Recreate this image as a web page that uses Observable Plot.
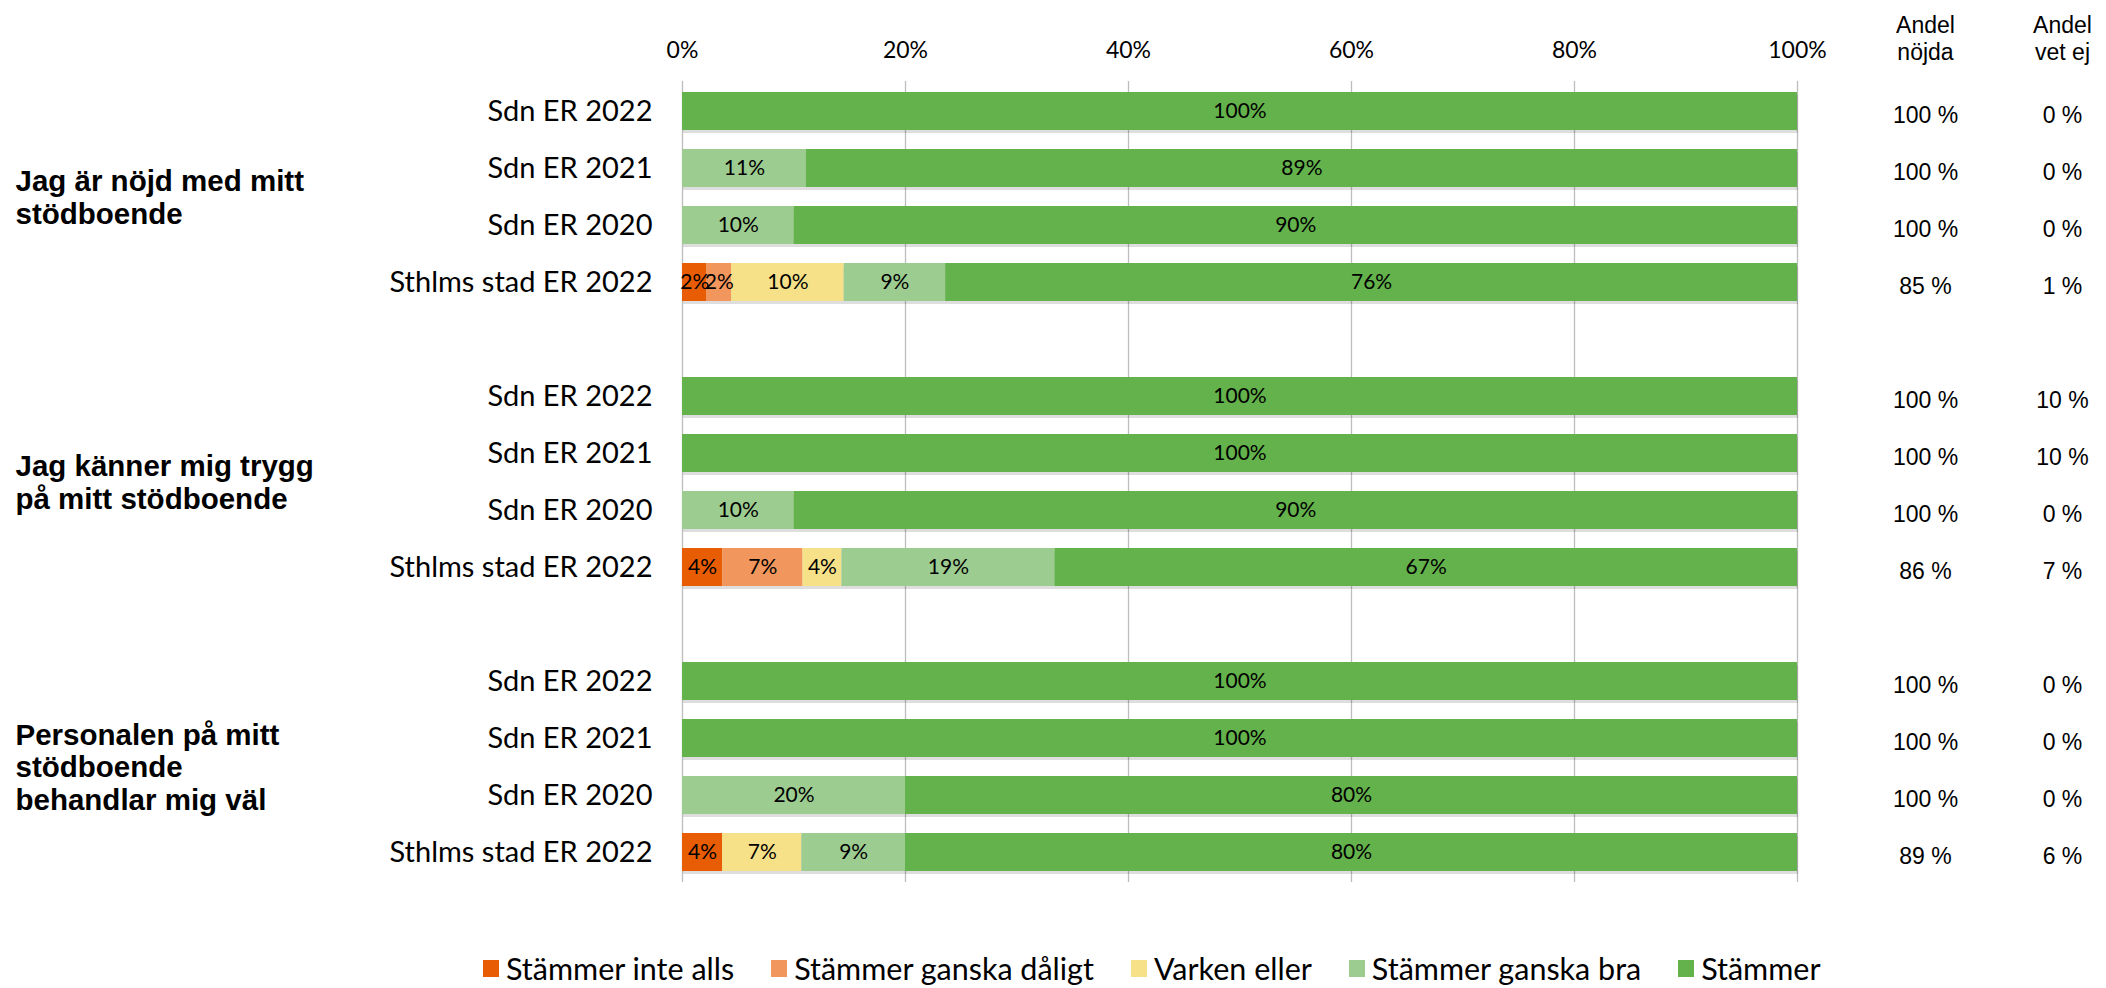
<!DOCTYPE html>
<html>
<head>
<meta charset="utf-8">
<script src="https://cdn.jsdelivr.net/npm/d3@7"></script>
<script src="https://cdn.jsdelivr.net/npm/@observablehq/plot@0.6"></script>
<style>
  html, body { margin: 0; padding: 0; background: #fff; }
  #wrap { position: relative; width: 2106px; height: 988px; }
  #legend { position: absolute; left: 483px; top: 950px; display: flex; align-items: center;
            font-family: Lato, "Open Sans", sans-serif; font-size: 30.5px; color: #000; }
  .item { display: flex; align-items: center; margin-right: 37px; }
  .sw { width: 16px; height: 17px; margin-right: 7px; }
</style>
</head>
<body>
<div id="wrap"><div id="chart"></div><div id="legend"></div></div>
<script>
// ---- data ----
const groups = ["Jag är nöjd med mitt\nstödboende", "Jag känner mig trygg\npå mitt stödboende", "Personalen på mitt\nstödboende\nbehandlar mig väl"];
const rowLabels = ["Sdn ER 2022", "Sdn ER 2021", "Sdn ER 2020", "Sthlms stad ER 2022"];
const categories = ["Stämmer inte alls", "Stämmer ganska dåligt", "Varken eller", "Stämmer ganska bra", "Stämmer"];
const colors = ["#E85C04", "#F1965C", "#F6E088", "#9DCC90", "#63B24B"];
// values per category, rows in order group1 (4 rows), group2 (4 rows), group3 (4 rows)
const stammerInteAlls     = [0, 0, 0, 2.2,   0, 0, 0, 3.6,   0, 0, 0, 3.6];
const stammerGanskaDaligt = [0, 0, 0, 2.2,   0, 0, 0, 7.2,   0, 0, 0, 0];
const varkenEller         = [0, 0, 0, 10.1,  0, 0, 0, 3.5,   0, 0, 0, 7.1];
const stammerGanskaBra    = [0, 11.1, 10, 9.1,  0, 0, 10, 19.1,  0, 0, 20, 9.3];
const stammer             = [100, 88.9, 90, 76.4,  100, 100, 90, 66.6,  100, 100, 80, 80];
const andelNojda = [100, 100, 100, 85,  100, 100, 100, 86,  100, 100, 100, 89];
const andelVetEj = [0, 0, 0, 1,  10, 10, 0, 7,  0, 0, 0, 6];
const xTicks = [0, 20, 40, 60, 80, 100];

// ---- build tables ----
const series = [stammerInteAlls, stammerGanskaDaligt, varkenEller, stammerGanskaBra, stammer];
const rowKeys = [];
const yDomain = [];
groups.forEach((g, gi) => {
  rowLabels.forEach(r => { const k = gi + "|" + r; rowKeys.push(k); yDomain.push(k); });
  if (gi < groups.length - 1) yDomain.push("gap" + gi);
});
const long = [];
series.forEach((vals, ci) => vals.forEach((v, i) => long.push({key: rowKeys[i], category: categories[ci], value: v})));
const rows = rowKeys.map((k, i) => ({key: k, nojda: andelNojda[i], vetej: andelVetEj[i]}));
const groupRows = groups.map((g, gi) => ({key: rowKeys[gi * 4 + 1], text: g}));

const W = 2106, H = 930, mL = 682, mR = 309, mT = 81, mB = 48;
const pIn = 0.33, pOut = 0.17;
const step = (H - mT - mB) / (yDomain.length - pIn + 2 * pOut);
const calibri = "Lato, 'Open Sans', sans-serif";
const arial = "'Liberation Sans', Arial, sans-serif";
const colNojdaDx = 128, colVetDx = 265;

const chart = Plot.plot({
  width: W, height: H, marginLeft: mL, marginRight: mR, marginTop: mT, marginBottom: mB,
  style: {fontFamily: calibri, color: "#000", background: "#fff"},
  x: {domain: [0, 100]},
  y: {domain: yDomain, paddingInner: pIn, paddingOuter: pOut, axis: null},
  color: {domain: categories, range: colors},
  marks: [
    Plot.gridX(xTicks, {stroke: "#bdbdbd", strokeOpacity: 1, strokeWidth: 1.3}),
    Plot.axisX({anchor: "top", ticks: xTicks, tickSize: 0, tickPadding: 24, tickFormat: d => d + "%", fontSize: 23, label: null}),
    Plot.axisY({ticks: rowKeys, tickSize: 0, tickPadding: 30, tickFormat: k => k.split("|")[1], fontSize: 29, label: null}),
    // subtle shadow under bars
    Plot.barX(rows, {x1: 0, x2: 100, y: "key", fill: "#000", fillOpacity: 0.13, dy: 3, dx: 1}),
    Plot.barX(long, Plot.stackX({x: "value", y: "key", fill: "category", order: categories})),
    Plot.text(long.filter(d => d.value > 0), Plot.stackX({x: "value", y: "key", z: "category", order: categories,
      text: d => Math.round(d.value) + "%", fill: "#000", fontSize: 21})),
    Plot.text(groupRows, {y: "key", text: "text", frameAnchor: "left", textAnchor: "start", dx: -(mL - 15), dy: step / 2,
      fontWeight: "bold", fontSize: 29.5, lineHeight: 1.1, fontFamily: arial, fill: "#000"}),
    Plot.text(rows, {y: "key", text: d => d.nojda + " %", frameAnchor: "right", textAnchor: "middle", dx: colNojdaDx, dy: 4, fontSize: 23, fontFamily: arial, fill: "#000"}),
    Plot.text(rows, {y: "key", text: d => d.vetej + " %", frameAnchor: "right", textAnchor: "middle", dx: colVetDx, dy: 4, fontSize: 23, fontFamily: arial, fill: "#000"}),
    Plot.text(["Andel\nnöjda"], {text: d => d, frameAnchor: "top-right", textAnchor: "middle", lineAnchor: "middle", dx: colNojdaDx, dy: -44, lineHeight: 1.2, fontSize: 23, fontFamily: arial, fill: "#000"}),
    Plot.text(["Andel\nvet ej"], {text: d => d, frameAnchor: "top-right", textAnchor: "middle", lineAnchor: "middle", dx: colVetDx, dy: -44, lineHeight: 1.2, fontSize: 23, fontFamily: arial, fill: "#000"})
  ]
});
document.getElementById("chart").appendChild(chart);

const legend = document.getElementById("legend");
categories.forEach((c, i) => {
  const it = document.createElement("div"); it.className = "item";
  const sw = document.createElement("div"); sw.className = "sw"; sw.style.background = colors[i];
  const t = document.createElement("span"); t.textContent = c;
  it.appendChild(sw); it.appendChild(t); legend.appendChild(it);
});
</script>
</body>
</html>
